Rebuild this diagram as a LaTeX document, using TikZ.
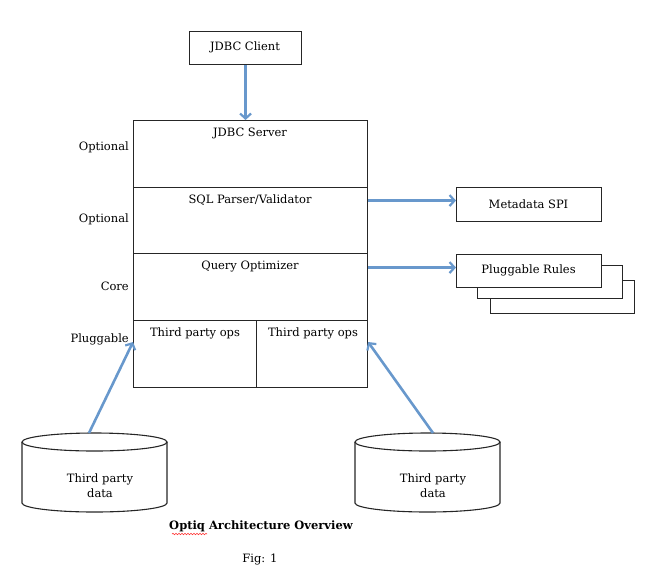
\documentclass[tikz,border=0pt]{standalone}
\usepackage{fontspec}
\setmainfont{DejaVu Serif}
\usetikzlibrary{arrows.meta,decorations.pathmorphing}
\definecolor{arrowblue}{RGB}{104,152,204}
\begin{document}
\begin{tikzpicture}[x=1pt,y=-1pt,
  box/.style={draw=black!85, line width=1.1pt, rectangle, inner sep=0pt, anchor=north west, fill=white},
  lbl/.style={font=\fontsize{11.5}{14}\selectfont, inner sep=0pt},
  side/.style={lbl, anchor=east},
  cyl/.style={draw=black!85, line width=1.1pt},
  flow/.style={draw=arrowblue, line width=2.6pt, -{Straight Barb[length=5pt,width=11pt,line width=2.2pt]}}]
\useasboundingbox (0,0) rectangle (663,584);

% client
\node[box, minimum width=112pt, minimum height=33pt] (client) at (189,31) {};
\node[lbl] (tclient) at (245,47.5) {JDBC Client};

% main stack
\node[box, minimum width=234pt, minimum height=67pt] (srv) at (133,120) {};
\node[box, minimum width=234pt, minimum height=66pt] (sql) at (133,187) {};
\node[box, minimum width=234pt, minimum height=67pt] (qo) at (133,253) {};
\node[box, minimum width=123pt, minimum height=67pt] (opsl) at (133,320) {};
\node[box, minimum width=111pt, minimum height=67pt] (opsr) at (256,320) {};

\node[lbl] (tsrv) at (250,133) {JDBC Server};
\node[lbl] (tsql) at (250,200) {SQL Parser/Validator};
\node[lbl] (tqo) at (250,267) {Query Optimizer};
\node[lbl] (topsl) at (195,333) {Third party ops};
\node[lbl] (topsr) at (313,333) {Third party ops};

% side labels
\node[side] (s1) at (129,147) {Optional};
\node[side] (s2) at (129,219) {Optional};
\node[side] (s3) at (129,286) {Core};
\node[side] (s4) at (129,339) {Pluggable};

% metadata
\node[box, minimum width=145pt, minimum height=34pt] (meta) at (456,187) {};
\node[lbl] (tmeta) at (528.5,204) {Metadata SPI};

% pluggable rules stack
\node[box, minimum width=144pt, minimum height=33pt] (rules3) at (490,280) {};
\node[box, minimum width=145pt, minimum height=33pt] (rules2) at (477,265) {};
\node[box, minimum width=145pt, minimum height=33pt] (rules) at (456,254) {};
\node[lbl] (trules) at (528.5,270.5) {Pluggable Rules};

% cylinders
\draw[cyl] (22,442) -- (22,503) arc[start angle=180, end angle=0, x radius=72.5, y radius=9] -- (167,442);
\draw[cyl] (94.5,442) ellipse[x radius=72.5, y radius=9];
\node[lbl, align=center] (dataL) at (100,486) {Third party\\[1pt]data};
\coordinate (c1top) at (89,433);

\draw[cyl] (355,442) -- (355,503) arc[start angle=180, end angle=0, x radius=72.5, y radius=9] -- (500,442);
\draw[cyl] (427.5,442) ellipse[x radius=72.5, y radius=9];
\node[lbl, align=center] (dataR) at (433,486) {Third party\\[1pt]data};
\coordinate (c2top) at (433,433);

% arrows
\coordinate (ma) at ([yshift=4pt]meta.west);
\coordinate (ra) at ([yshift=3.5pt]rules.west);
\draw[flow] (client.south) -- (client.south |- srv.north);
\draw[flow] (sql.east |- ma) -- (ma);
\draw[flow] (qo.east |- ra) -- (ra);
\draw[flow] (c1top) -- ([yshift=-22pt]opsl.north west);
\draw[flow] (c2top) -- ([yshift=-22pt]opsr.north east);

% caption
\node[lbl, font=\bfseries\fontsize{11.5}{14}\selectfont] (title) at (261,526) {Optiq Architecture Overview};
\draw[red!80, line width=0.6pt, decorate, decoration={snake, amplitude=0.7pt, segment length=3pt}] (172,534) -- (207,534);
\node[lbl] (fig) at (260,559) {Fig: 1};
\end{tikzpicture}
\end{document}
